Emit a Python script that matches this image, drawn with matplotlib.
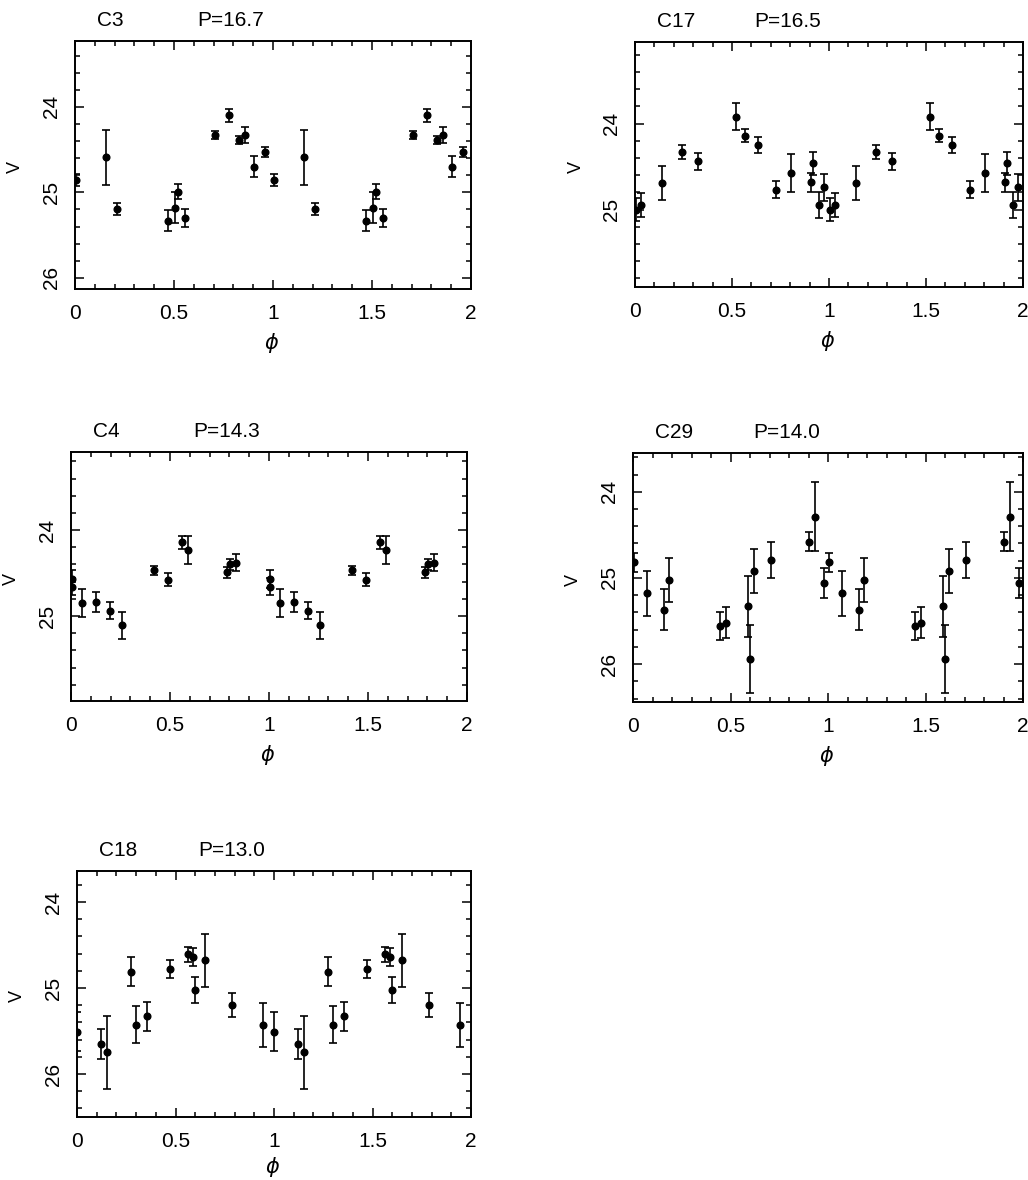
import matplotlib
matplotlib.use("Agg")
import matplotlib.pyplot as plt
import numpy as np
from matplotlib.ticker import MultipleLocator, FixedLocator, FixedFormatter

plt.rcParams['font.family'] = ['Liberation Sans', 'DejaVu Sans']

# ---- data: phases in one cycle (0..1), V magnitudes, errors ----
c3_phase = [0.004, 0.157, 0.214, 0.471, 0.504, 0.521, 0.557, 0.709, 0.778, 0.827, 0.857, 0.906, 0.962]
c3_v     = [24.85, 24.59, 25.19, 25.33, 25.18, 24.99, 25.30, 24.33, 24.10, 24.39, 24.33, 24.70, 24.53]
c3_err   = [0.07, 0.32, 0.07, 0.12, 0.18, 0.09, 0.11, 0.05, 0.075, 0.05, 0.09, 0.12, 0.055]

c17_phase = [0.006, 0.029, 0.140, 0.240, 0.323, 0.520, 0.566, 0.636, 0.729, 0.802, 0.906, 0.918, 0.946, 0.972]
c17_v     = [25.00, 24.95, 24.69, 24.33, 24.44, 23.92, 24.14, 24.25, 24.77, 24.57, 24.68, 24.46, 24.95, 24.74]
c17_err   = [0.135, 0.14, 0.20, 0.08, 0.10, 0.155, 0.075, 0.095, 0.10, 0.22, 0.11, 0.135, 0.15, 0.16]

c4_phase = [0.003, 0.006, 0.057, 0.128, 0.198, 0.258, 0.420, 0.490, 0.560, 0.590, 0.789, 0.801, 0.831]
c4_v     = [24.66, 24.57, 24.85, 24.84, 24.94, 25.11, 24.47, 24.58, 24.14, 24.23, 24.49, 24.40, 24.38]
c4_err   = [0.10, 0.10, 0.16, 0.115, 0.10, 0.16, 0.055, 0.075, 0.075, 0.16, 0.065, 0.06, 0.10]

c29_phase = [0.003, 0.073, 0.158, 0.183, 0.447, 0.479, 0.592, 0.601, 0.618, 0.709, 0.905, 0.935, 0.982]
c29_v     = [24.82, 25.18, 25.37, 25.02, 25.56, 25.52, 25.33, 25.94, 24.92, 24.79, 24.58, 24.29, 25.06]
c29_err   = [0.11, 0.265, 0.24, 0.255, 0.165, 0.18, 0.35, 0.39, 0.255, 0.21, 0.11, 0.40, 0.175]

c18_phase = [0.002, 0.121, 0.153, 0.276, 0.297, 0.357, 0.473, 0.563, 0.589, 0.599, 0.651, 0.788, 0.943]
c18_v     = [25.51, 25.65, 25.75, 24.81, 25.43, 25.33, 24.78, 24.61, 24.64, 25.02, 24.68, 25.20, 25.43]
c18_err   = [0.225, 0.175, 0.43, 0.17, 0.215, 0.165, 0.10, 0.09, 0.10, 0.15, 0.31, 0.14, 0.255]

names   = ['C3', 'C17', 'C4', 'C29', 'C18']
periods = ['P=16.7', 'P=16.5', 'P=14.3', 'P=14.0', 'P=13.0']
phases  = [c3_phase, c17_phase, c4_phase, c29_phase, c18_phase]
mags    = [c3_v, c17_v, c4_v, c29_v, c18_v]
errs    = [c3_err, c17_err, c4_err, c29_err, c18_err]
ylims   = [(26.13, 23.23), (25.90, 23.05), (25.99, 23.09), (26.44, 23.55), (26.50, 23.64)]
yticks  = [[24, 25, 26], [24, 25], [24, 25], [24, 25, 26], [24, 25, 26]]

W, H = 1028, 1180
boxes_px = [(75, 41, 471, 289), (635, 42, 1023, 287), (71, 452, 467, 701),
            (633, 453, 1023, 702), (77, 871, 471, 1117)]
xlabel_y = [-0.17, -0.17, -0.17, -0.17, -0.155]

fig = plt.figure(figsize=(W / 100, H / 100), dpi=100)
fig.patch.set_facecolor('white')

for i in range(5):
    l, t, r, b = boxes_px[i]
    ax = fig.add_axes([l / W, 1 - b / H, (r - l) / W, (b - t) / H])
    ph = np.asarray(phases[i])
    v = np.asarray(mags[i])
    e = np.asarray(errs[i])
    x = np.concatenate([ph, ph + 1])
    y = np.concatenate([v, v])
    ee = np.concatenate([e, e])
    ax.errorbar(x, y, yerr=ee, fmt='o', color='black', ms=4.8, elinewidth=1.2,
                capsize=2.6, capthick=1.2, clip_on=True)
    ax.set_xlim(0, 2)
    ax.set_ylim(*ylims[i])
    ax.xaxis.set_major_locator(FixedLocator([0, 0.5, 1, 1.5, 2]))
    ax.xaxis.set_major_formatter(FixedFormatter(['0', '0.5', '1', '1.5', '2']))
    ax.xaxis.set_minor_locator(MultipleLocator(0.1))
    ax.yaxis.set_major_locator(FixedLocator(yticks[i]))
    ax.yaxis.set_major_formatter(FixedFormatter([str(k) for k in yticks[i]]))
    ax.yaxis.set_minor_locator(MultipleLocator(0.2))
    ax.tick_params(which='both', direction='in', top=True, right=True, width=1.1, colors='black')
    ax.tick_params(which='major', length=6.5)
    ax.tick_params(which='minor', length=3.8)
    ax.tick_params(axis='x', which='major', labelsize=15, pad=11)
    ax.tick_params(axis='y', which='major', labelsize=15, pad=10, labelrotation=90)
    for lab in ax.get_yticklabels():
        lab.set_va('center')
    for s in ax.spines.values():
        s.set_linewidth(1.4)
    ax.set_xlabel(r'$\phi$', fontsize=15)
    ax.xaxis.set_label_coords(0.497, xlabel_y[i])
    ax.set_ylabel('V', fontsize=13)
    ax.yaxis.set_label_coords(-0.13, 0.49)
    ax.text(0.056, 1.045, names[i], transform=ax.transAxes, ha='left', va='bottom', fontsize=15)
    ax.text(0.308, 1.045, periods[i], transform=ax.transAxes, ha='left', va='bottom', fontsize=15)

fig.savefig('out.png', dpi=100, facecolor='white')
